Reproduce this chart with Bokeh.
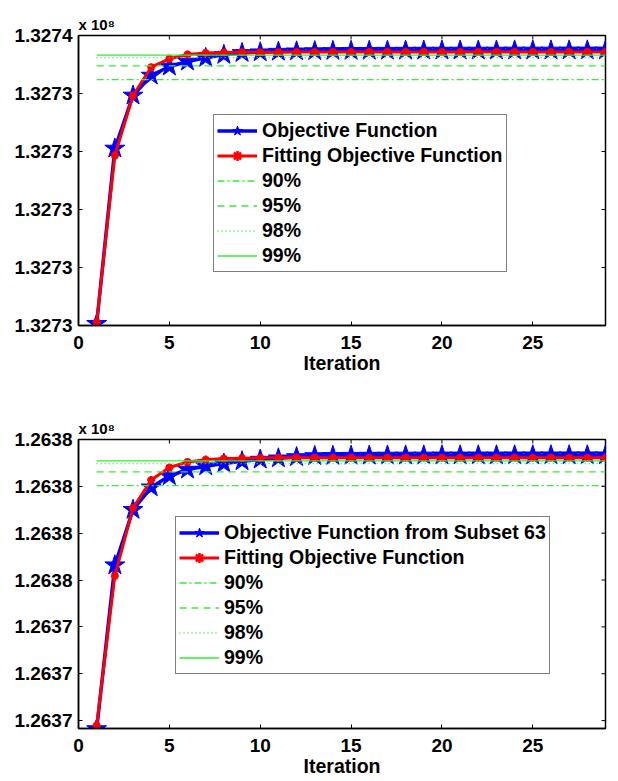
import math
from bokeh.plotting import figure
from bokeh.layouts import column
from bokeh.models import FixedTicker, Range1d, Title
from bokeh.embed import file_html
from bokeh.resources import INLINE

# ---------------- data ----------------
iterations = [i for i in range(1, 30)]
x_ticks = [0, 5, 10, 15, 20, 25]

# top panel
top_objective = [132730030, 132733052, 132733966, 132734310, 132734466, 132734552,
                 132734615, 132734667, 132734700, 132734712, 132734722, 132734728,
                 132734732, 132734735, 132734737, 132734738, 132734739, 132734740,
                 132734741, 132734741, 132734742, 132734742, 132734742, 132734743,
                 132734743, 132734743, 132734744, 132734744, 132734744]
top_fitting = [132730055, 132732931, 132733966, 132734453, 132734598, 132734672,
               132734697, 132734706, 132734710, 132734712, 132734713, 132734714,
               132734714, 132734714, 132734714, 132734715, 132734715, 132734715,
               132734715, 132734715, 132734715, 132734715, 132734715, 132734715,
               132734715, 132734715, 132734715, 132734715, 132734715]
top_thresholds = [132734240, 132734475, 132734618, 132734662]   # 90, 95, 98, 99 %
top_y_ticks = [132730000, 132731000, 132732000, 132733000, 132734000, 132735000]
top_y_labels = ["1.3273", "1.3273", "1.3273", "1.3273", "1.3273", "1.3274"]

# bottom panel
bot_objective = [126371820, 126375317, 126376500, 126376980, 126377219, 126377360,
                 126377430, 126377487, 126377536, 126377572, 126377599, 126377626,
                 126377648, 126377652, 126377655, 126377657, 126377659, 126377660,
                 126377661, 126377662, 126377662, 126377663, 126377663, 126377664,
                 126377664, 126377664, 126377665, 126377665, 126377665]
bot_fitting = [126371894, 126375091, 126376536, 126377134, 126377403, 126377521,
               126377570, 126377592, 126377602, 126377607, 126377609, 126377610,
               126377610, 126377610, 126377610, 126377610, 126377610, 126377610,
               126377610, 126377610, 126377610, 126377610, 126377610, 126377610,
               126377610, 126377610, 126377610, 126377610, 126377610]
bot_thresholds = [126377014, 126377310, 126377487, 126377542]
bot_y_ticks = [126372000, 126373000, 126374000, 126375000, 126376000, 126377000, 126378000]
bot_y_labels = ["1.2637", "1.2637", "1.2637", "1.2638", "1.2638", "1.2638", "1.2638"]

threshold_names = ["90%", "95%", "98%", "99%"]
threshold_dashes = ["7 3 2 3", "7 5", "1 3", "solid"]

FONT = "Liberation Sans"
GREEN = "#33ee33"
X_MAX = 29


def make_panel(obj, fit, thr, yticks, ylabels, yrange, obj_name, height, btop, bbot, legend_loc):
    p = figure(width=610, height=height, output_backend="svg", toolbar_location=None,
               x_range=Range1d(0, X_MAX), y_range=Range1d(*yrange),
               min_border_left=78, min_border_right=5, min_border_top=btop,
               min_border_bottom=bbot)
    p.background_fill_color = "white"
    p.border_fill_color = "white"
    p.xgrid.visible = False
    p.ygrid.visible = False
    p.outline_line_color = "black"
    p.outline_line_width = 1.5

    # data
    p.line(iterations, obj, line_color="blue", line_width=3.5, legend_label=obj_name)
    p.scatter(iterations, obj, marker="star", size=21, fill_color="blue",
              line_color="blue", legend_label=obj_name)
    p.line(iterations, fit, line_color="red", line_width=3, legend_label="Fitting Objective Function")
    p.scatter(iterations, fit, marker="asterisk", size=8, line_color="red", line_width=2.5,
              legend_label="Fitting Objective Function")
    for val, name, dash in zip(thr, threshold_names, threshold_dashes):
        p.line([iterations[0], iterations[-1]], [val, val], line_color=GREEN, line_width=1.3,
               line_dash=dash, legend_label=name)

    # box ticks on top and right (inward, half clipped by the frame)
    p.scatter(x_ticks, [yrange[1]] * len(x_ticks), marker="dash", angle=math.pi / 2, size=8,
              line_color="black", line_width=1)
    p.scatter([X_MAX] * len(yticks), yticks, marker="dash", size=8,
              line_color="black", line_width=1)

    # axes
    p.xaxis.ticker = FixedTicker(ticks=x_ticks)
    p.yaxis.ticker = FixedTicker(ticks=yticks)
    p.yaxis.major_label_overrides = {t: l for t, l in zip(yticks, ylabels)}
    for ax in (p.xaxis[0], p.yaxis[0]):
        ax.major_tick_in = 4
        ax.major_tick_out = 0
        ax.minor_tick_line_color = None
        ax.axis_line_width = 1.5
        ax.major_tick_line_width = 1
        ax.major_label_text_font = FONT
        ax.major_label_text_font_style = "bold"
        ax.major_label_text_font_size = "19px"
        ax.major_label_text_color = "black"
    p.yaxis.major_label_standoff = 6
    p.xaxis.major_label_standoff = 10
    p.xaxis.axis_label = "Iteration"
    p.xaxis.axis_label_text_font = FONT
    p.xaxis.axis_label_text_font_style = "bold"
    p.xaxis.axis_label_text_font_size = "19.5px"
    p.xaxis.axis_label_text_color = "black"
    p.xaxis.axis_label_standoff = 0

    # exponent note
    p.add_layout(Title(text="x 10\u2078", align="left", text_font=FONT, text_font_style="bold",
                       text_font_size="15px", text_color="black", standoff=6), "above")

    # legend
    lg = p.legend[0]
    lg.location = legend_loc
    lg.label_text_font = FONT
    lg.label_text_font_style = "bold"
    lg.label_text_font_size = "19.5px"
    lg.label_text_color = "black"
    lg.label_height = 25
    lg.glyph_height = 25
    lg.glyph_width = 40
    lg.spacing = 0
    lg.padding = 3
    lg.margin = 0
    lg.label_standoff = 5
    lg.border_line_color = "black"
    lg.border_line_width = 1.5
    lg.background_fill_alpha = 1
    return p


p1 = make_panel(top_objective, top_fitting, top_thresholds, top_y_ticks, top_y_labels,
                (132730000, 132735000), "Objective Function", 380, 35, 55, (135, 53))
p2 = make_panel(bot_objective, bot_fitting, bot_thresholds, bot_y_ticks, bot_y_labels,
                (126371831, 126378000), "Objective Function from Subset 63", 399, 59, 48, (97, 54))

layout = column(p1, p2, spacing=0)
open("out.html", "w").write(file_html(layout, INLINE))
